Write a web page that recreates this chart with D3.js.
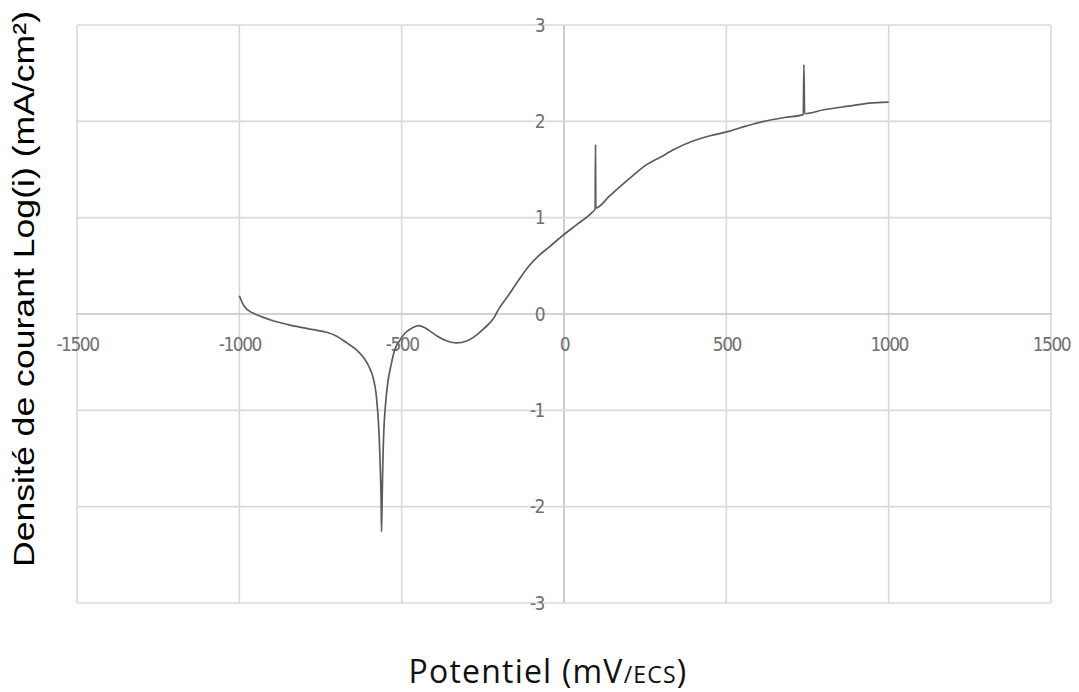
<!DOCTYPE html>
<html>
<head>
<meta charset="utf-8">
<script src="https://cdn.jsdelivr.net/npm/d3@7"></script>
<style>
  body { margin: 0; background: #fff; }
</style>
</head>
<body>
<div id="chart"></div>
<script>
// data
var potential = [-1000, -985, -958, -930, -896, -850, -793, -760, -731, -700, -669, -640, -618, -600, -588, -578,
  -570, -566, -563, -562, -560, -558, -555, -550, -543, -532, -522, -505, -490, -470, -448, -430, -416, -390, -360,
  -331, -300, -278, -246, -214, -203, -170, -140, -110, -76, -44, -2, 40, 85, 96, 97, 98, 139, 175, 213, 250, 298,
  340, 393, 450, 501, 560, 616, 680, 737, 739, 741, 800, 881, 940, 1000];
var logI = [0.19, 0.08, 0.01, -0.03, -0.07, -0.11, -0.15, -0.17, -0.19, -0.23, -0.30, -0.37, -0.45, -0.55, -0.66, -0.85,
  -1.22, -1.58, -2.0, -2.26, -1.9, -1.55, -1.22, -0.95, -0.72, -0.52, -0.38, -0.27, -0.20, -0.15, -0.12, -0.14, -0.17, -0.23, -0.28,
  -0.30, -0.28, -0.24, -0.15, -0.03, 0.04, 0.20, 0.35, 0.49, 0.61, 0.70, 0.82, 0.93, 1.05, 1.09, 1.76, 1.10, 1.22, 1.33, 1.44, 1.54, 1.63,
  1.71, 1.79, 1.85, 1.89, 1.95, 2.00, 2.04, 2.07, 2.59, 2.08, 2.12, 2.16, 2.19, 2.20];

var xTicks = [-1500, -1000, -500, 0, 500, 1000, 1500];
var yTicks = [-3, -2, -1, 0, 1, 2, 3];

var width = 1079, height = 692;
var margin = {top: 25, right: 28, bottom: 89, left: 77};

var svg = d3.select("#chart").append("svg")
    .attr("width", width)
    .attr("height", height);

var x = d3.scaleLinear().domain([-1500, 1500]).range([margin.left, width - margin.right]);
var y = d3.scaleLinear().domain([-3, 3]).range([height - margin.bottom, margin.top]);

// grid
svg.selectAll(".vgrid")
  .data(xTicks)
  .enter()
  .append("line")
  .attr("class", "vgrid")
  .attr("x1", function(d){ return x(d); })
  .attr("x2", function(d){ return x(d); })
  .attr("y1", y(3))
  .attr("y2", y(-3))
  .attr("stroke", function(d){ return d === 0 ? "#c4c4c4" : "#dadada"; })
  .attr("stroke-width", 1.7);

svg.selectAll(".hgrid")
  .data(yTicks)
  .enter()
  .append("line")
  .attr("class", "hgrid")
  .attr("x1", x(-1500))
  .attr("x2", x(1500))
  .attr("y1", function(d){ return y(d); })
  .attr("y2", function(d){ return y(d); })
  .attr("stroke", function(d){ return d === 0 ? "#c4c4c4" : "#dadada"; })
  .attr("stroke-width", 1.7);

var fmt = function(d){ return String(d); };

// x tick labels, under the zero line
var xAxis = svg.append("g")
  .attr("transform", "translate(0," + y(0) + ")")
  .call(d3.axisBottom(x).tickValues(xTicks).tickFormat(fmt).tickSize(0).tickPadding(24));
xAxis.select(".domain").remove();
xAxis.selectAll("text")
  .attr("font-family", "DejaVu Sans Condensed, DejaVu Sans")
  .attr("font-size", 19)
  .attr("fill", "#707070")
  .attr("letter-spacing", -1.5);

// y tick labels, left of the zero potential line
var yAxis = svg.append("g")
  .attr("transform", "translate(" + x(0) + ",0)")
  .call(d3.axisLeft(y).tickValues(yTicks).tickFormat(fmt).tickSize(0).tickPadding(20));
yAxis.select(".domain").remove();
yAxis.selectAll("text")
  .attr("font-family", "DejaVu Sans Condensed, DejaVu Sans")
  .attr("font-size", 19)
  .attr("fill", "#707070")
  .attr("letter-spacing", -1.5);

// curve
var pts = potential.map(function(p, i){ return [p, logI[i]]; });
var line = d3.line()
  .x(function(d){ return x(d[0]); })
  .y(function(d){ return y(d[1]); })
  .curve(d3.curveMonotoneX);

svg.append("path")
  .datum(pts)
  .attr("d", line)
  .attr("fill", "none")
  .attr("stroke", "#5c5c5c")
  .attr("stroke-width", 1.7)
  .attr("stroke-linejoin", "round");

// axis titles
svg.append("text")
  .attr("transform", "translate(34,289) rotate(-90)")
  .attr("text-anchor", "middle")
  .attr("font-family", "Liberation Sans, Arial, sans-serif")
  .attr("font-size", 30)
  .attr("textLength", 556)
  .attr("lengthAdjust", "spacingAndGlyphs")
  .attr("fill", "#000")
  .text("Densité de courant Log(i) (mA/cm²)");

var xt = svg.append("text")
  .attr("x", 548)
  .attr("y", 683)
  .attr("text-anchor", "middle")
  .attr("font-family", "Open Sans, sans-serif")
  .attr("font-size", 32)
  .attr("letter-spacing", 1.2)
  .attr("fill", "#111");
xt.append("tspan").text("Potentiel (mV");
xt.append("tspan").attr("font-size", 23).text("/ECS");
xt.append("tspan").text(")");
</script>
</body>
</html>
